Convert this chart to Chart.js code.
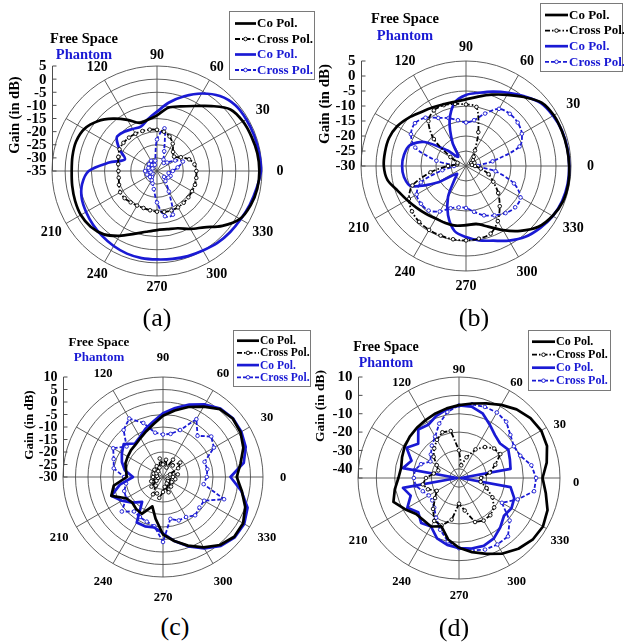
<!DOCTYPE html>
<html>
<head>
<meta charset="utf-8">
<script src="https://cdn.jsdelivr.net/npm/chart.js@4.4.1/dist/chart.umd.min.js"></script>
<style>
  html, body { margin: 0; padding: 0; background: #fff; }
  #page { position: relative; width: 624px; height: 642px; overflow: hidden; background: #fff; }
  canvas { position: absolute; }
  .cap { position: absolute; transform: translate(-50%, -50%); font: 26px "Liberation Serif", "Times New Roman", serif; color: #000; }
</style>
</head>
<body>
<div id="page">
  <canvas id="pa" width="316" height="300" style="left:0;top:0"></canvas>
  <canvas id="pb" width="314" height="300" style="left:310px;top:0"></canvas>
  <canvas id="pc" width="316" height="290" style="left:0;top:322px"></canvas>
  <canvas id="pd" width="314" height="290" style="left:310px;top:322px"></canvas>
  <div class="cap" style="left:157px;top:318px">(a)</div>
  <div class="cap" style="left:474px;top:318px">(b)</div>
  <div class="cap" style="left:175px;top:627px">(c)</div>
  <div class="cap" style="left:454px;top:628px">(d)</div>
</div>
<script>
const SERIF = '"Liberation Serif", "Times New Roman", serif';
Chart.defaults.font.family = SERIF;
Chart.defaults.color = '#000';

// angle in degrees, counter-clockwise from the 0 direction (right)
const ANGLES = [0, 10, 20, 30, 40, 50, 60, 70, 80, 90, 100, 110, 120, 130, 140, 150, 160, 170,
                180, 190, 200, 210, 220, 230, 240, 250, 260, 270, 280, 290, 300, 310, 320, 330, 340, 350];
const ANGLE_LABELS = [0, 30, 60, 90, 120, 210, 240, 270, 300, 330];
const SERIES_NAMES = ['Co Pol.', 'Cross Pol.', 'Co Pol.', 'Cross Pol.'];
const GROUP_NAMES = ['Free Space', 'Phantom'];

// gain in dB, one value per entry of ANGLES
// (a)
const A_FS_CO = [4, 3.8, 3.3, 2.8, 1.5, -2.7, -6.4, -8.8, -10.5, -13.8, -15.2, -15.5, -12.5, -9, -5.5, -3, -2.2, -2.3,
                 -2.5, -2.2, -1.8, -1.5, -2, -3.5, -6.5, -9.5, -11.5, -12.5, -12.5, -11.8, -9.5, -7, -2.5, 1.5, 3, 3.8];
const A_FS_CROSS = [-20, -20.5, -22, -24.5, -26.5, -25.5, -23, -21, -19.8, -19.3, -19, -18.8, -18.6, -18.4, -18.3, -18.5, -19.3, -20,
                    -20.3, -20.2, -19.6, -18.8, -18.9, -19.4, -19.8, -20, -19.8, -19.5, -19.2, -19, -19, -19.2, -19.4, -19.6, -19.6, -19.8];
const A_PH_CO = [4.6, 4.5, 4.4, 4.3, 4.0, 2.3, -0.9, -4.7, -8.5, -12.4, -15, -17, -16.5, -15.5, -15, -18.5, -22, -16.5,
                 -9, -6, -4.5, -3.8, -3.2, -2.6, -2, -1.5, -1.3, -1.3, -1, -0.5, 0, 0.8, 1.3, 1.8, 2.6, 3.5];
const A_PH_CROSS = [-29, -27, -24.5, -27, -30, -31, -30, -27, -18.5, -23, -31, -32.5, -30.5, -32, -31, -33, -31.5, -32,
                    -30.5, -32.5, -31, -33, -31.5, -32, -31, -30, -28, -23, -17.5, -17.3, -26, -30, -31.5, -30, -29.5, -30.5];
// (b)
const B_FS_CO = [4.4, 4.2, 4.0, 3.8, 2.9, 0, -2.6, -4.7, -6.5, -7.8, -8.3, -8.1, -7.5, -6.6, -5, -3.5, -2.7, -2.6,
                 -2.6, -3.4, -5.8, -7.3, -8.4, -9.2, -9.8, -9.8, -9.8, -10.3, -10.4, -8.5, -5.3, -1.8, 1.5, 3.3, 4.4, 4.6];
const B_FS_CROSS = [-27, -28, -27, -28, -27, -26, -24, -18, -10, -9.5, -9, -8.4, -8.6, -10.5, -16, -24, -27, -27,
                    -24, -18, -11, -8, -6.5, -5.7, -5.4, -5.3, -5.2, -5.2, -5.4, -6, -8.8, -12.5, -16, -19.5, -22, -25];
const B_PH_CO = [4.4, 4.3, 4.1, 3.5, 2.6, 0.3, -1.8, -3.6, -5.2, -6.3, -8.5, -14, -21, -26, -22, -14, -10, -9,
                 -8.7, -9, -10.5, -19, -26, -24, -18, -12.5, -8, -6.3, -4.8, -3.5, -1.3, 0.8, 2.2, 3.4, 4.1, 4.4];
const B_PH_CROSS = [-26, -21, -11, -8.5, -7.5, -7.3, -8, -11.4, -14.5, -15.5, -14.5, -13, -11.5, -9, -7.8, -8.8, -12, -20,
                    -26, -22, -14, -11, -10.4, -10.6, -12.5, -15, -16, -16, -14.5, -12.5, -11, -9.5, -8.6, -9, -13, -20];
// (c)
const C_FS_CO = [-0.5, 1.5, 4.2, 5.8, 6.4, 5.4, 2.5, -0.2, -3, -5.5, -8.5, -10.5, -12, -13, -13.3, -13.7, -14, -15,
                 -15.5, -10, -8, -13, -14, -13.3, -13, -17.5, -13, -7, -4, -0.8, 2.5, 5.5, 7.2, 7, 5, 2];
const C_FS_CROSS = [-26, -24, -27, -23, -21, -24, -22, -26, -23, -25, -22.5, -26, -25, -27, -25.5, -27, -26, -27.5,
                    -26, -28, -25, -27, -24, -25.5, -22, -23, -21.5, -24, -26, -23.5, -27, -25, -27.5, -26, -28, -25];
const C_PH_CO = [-3, 2.8, 5.2, 6.2, 6.5, 5.7, 3.5, 0.8, -2, -4.5, -7.5, -9.5, -11.5, -12.5, -9.5, -11, -12.5, -14.5,
                 -18, -12.5, -8, -11, -14, -17, -9, -9, -9.5, -7.5, -4, -0.5, 3, 6, 7.5, 7.5, 6, 1.8];
const C_PH_CROSS = [-12.5, -12, -12.3, -6.5, -4.8, -8.5, -3.3, -10, -12.5, -13, -12, -7, -3, -5.5, -11, -7, -9, -10,
                    -14.5, -15, -13.5, -13, -8.5, -12, -11.5, -11, -10, -4, -13, -11.5, -11.5, -10, -11, -11, -4, -13.5];
// (d)
const D_FS_CO = [0.5, 3.5, 6, 6.7, 5.8, 3.8, 1, -1.8, -3.8, -5.3, -6.5, -7.6, -8.6, -9.3, -10, -10.8, -12, -13,
                 -12, -9.5, -7, -11, -14.5, -15, -14.5, -17, -11, -7, -4, -1, 2.5, 5.3, 7.3, 7.8, 6.3, 3];
const D_FS_CROSS = [-33, -28, -24, -19, -20, -23, -27, -33, -38, -30, -19, -18.5, -21, -24, -27, -31, -33, -31,
                    -27, -25, -27, -31, -28, -23, -18, -17.5, -22, -31, -27, -19.5, -18.2, -18.5, -20, -24, -29, -33];
const D_PH_CO = [-44, -16.5, -15.5, -14, -15.8, -14.5, -11.5, -7.5, -5.5, -5.5, -7, -9, -11.5, -10.5, -16, -12, -17.5, -14,
                 -44, -14, -17, -12.5, -16, -13, -14.5, -10, -8, -6.8, -6, -5.7, -7, -10, -13, -12, -13, -16.5];
const D_PH_CROSS = [-3, -5, -9.5, -10.5, -8.5, -5, -3.8, -3.8, -4.3, -5.5, -8.5, -13.5, -19, -22, -25, -27, -23, -20.5,
                    -20.4, -21, -24, -26, -26, -24, -20, -15, -10, -6.8, -5, -3.5, -3.2, -3.5, -9, -18, -11, -3.5];

const BLACK = '#000000';
const BLUE = '#1a1ad4';
const GRID = '#4d4d4d';

const STYLES = [
  { color: BLACK, width: 2.7, dash: [], marks: false },
  { color: BLACK, width: 1.8, dash: [5, 2, 1.5, 2], marks: true },
  { color: BLUE, width: 2.7, dash: [], marks: false },
  { color: BLUE, width: 1.8, dash: [4, 2], marks: true }
];

// radar walks its labels clockwise, the plot runs counter-clockwise
const ORDER = ANGLES.map((_, i) => (ANGLES.length - i) % ANGLES.length);
const pick = arr => ORDER.map(k => arr[k]);

function decor(d) {
  return {
    id: 'polarDecor',
    afterDraw(chart) {
      const ctx = chart.ctx, r = chart.scales.r;
      const cx = r.xCenter, cy = r.yCenter, R = r.drawingArea;
      ctx.save();

      // angle labels
      ctx.fillStyle = '#000';
      ctx.textAlign = 'center';
      ctx.textBaseline = 'middle';
      ctx.font = `bold ${d.labelSize}px ${SERIF}`;
      chart.data.labels.forEach((a, i) => {
        if (!ANGLE_LABELS.includes(a)) return;
        const rad = a * Math.PI / 180;
        const p = r.getPointPosition(i, R + d.labelGap + d.labelSide * Math.abs(Math.cos(rad)));
        ctx.fillText(String(a), p.x, p.y + d.labelDy);
      });

      // gain axis on the left
      const x0 = Math.round(cx - R) + 0.5;
      ctx.strokeStyle = GRID;
      ctx.lineWidth = 1;
      ctx.beginPath();
      ctx.moveTo(x0, cy - R);
      ctx.lineTo(x0, cy);
      ctx.stroke();
      ctx.textAlign = 'right';
      ctx.font = `bold ${d.tickSize}px ${SERIF}`;
      r.ticks.forEach(t => {
        const y = cy - r.getDistanceFromCenterForValue(t.value);
        ctx.beginPath();
        ctx.moveTo(x0, y);
        ctx.lineTo(x0 + 4, y);
        ctx.stroke();
        if (t.value % d.step === 0) ctx.fillText(String(t.value), x0 - 6, y + 0.5);
      });

      // axis title
      ctx.save();
      ctx.translate(d.axisTitle[0], d.axisTitle[1]);
      ctx.rotate(-Math.PI / 2);
      ctx.textAlign = 'center';
      ctx.font = `bold ${d.axisSize}px ${SERIF}`;
      ctx.fillText('Gain (in dB)', 0, 0);
      ctx.restore();

      // group titles
      ctx.textAlign = 'center';
      ctx.font = `bold ${d.titleSize}px ${SERIF}`;
      ctx.fillStyle = BLACK;
      ctx.fillText(GROUP_NAMES[0], d.title[0], d.title[1]);
      ctx.fillStyle = BLUE;
      ctx.fillText(GROUP_NAMES[1], d.title[0], d.title[2]);

      // legend box
      const L = d.legend;
      ctx.fillStyle = '#fff';
      ctx.fillRect(L.x, L.y, L.w, L.h);
      ctx.strokeStyle = '#7a7a7a';
      ctx.lineWidth = 1;
      ctx.strokeRect(L.x + 0.5, L.y + 0.5, L.w, L.h);
      ctx.font = `bold ${L.size}px ${SERIF}`;
      ctx.textAlign = 'left';
      chart.data.datasets.forEach((ds, i) => {
        const y = L.row0 + i * L.dy;
        ctx.strokeStyle = ds.borderColor;
        ctx.lineWidth = ds.borderWidth;
        ctx.setLineDash(ds.borderDash);
        ctx.beginPath();
        ctx.moveTo(L.lx, y);
        ctx.lineTo(L.lx + L.lw, y);
        ctx.stroke();
        ctx.setLineDash([]);
        if (ds.pointRadius) {
          ctx.beginPath();
          ctx.arc(L.lx + L.lw / 2, y, 1.8, 0, Math.PI * 2);
          ctx.fillStyle = '#fff';
          ctx.fill();
          ctx.lineWidth = 0.9;
          ctx.stroke();
        }
        ctx.fillStyle = ds.borderColor;
        ctx.fillText(ds.label, L.lx + L.lw + 1, y + 0.5);
      });
      ctx.restore();
    }
  };
}

function polar(id, cfg) {
  const datasets = cfg.series.map((vals, i) => ({
    label: SERIES_NAMES[i],
    data: pick(vals),
    borderColor: STYLES[i].color,
    borderWidth: STYLES[i].width,
    borderDash: STYLES[i].dash,
    borderJoinStyle: 'round',
    fill: false,
    tension: cfg.tension,
    pointRadius: STYLES[i].marks ? 1.8 : 0,
    pointBackgroundColor: '#fff',
    pointBorderColor: STYLES[i].color,
    pointBorderWidth: 0.9
  }));
  const labels = pick(ANGLES);
  new Chart(document.getElementById(id), {
    type: 'radar',
    data: { labels, datasets },
    options: {
      responsive: false,
      animation: false,
      events: [],
      layout: { padding: cfg.pad },
      plugins: { legend: { display: false }, tooltip: { enabled: false } },
      scales: {
        r: {
          min: cfg.min,
          max: cfg.max,
          startAngle: 90,
          ticks: { display: false, stepSize: cfg.step },
          pointLabels: { display: false },
          grid: { circular: true, color: GRID, lineWidth: 0.9 },
          angleLines: { color: GRID, lineWidth: c => (labels[c.index] % 30 === 0 ? 0.9 : 0) }
        }
      }
    },
    plugins: [decor(Object.assign({ step: cfg.step }, cfg.decor))]
  });
}

polar('pa', {
  series: [A_FS_CO, A_FS_CROSS, A_PH_CO, A_PH_CROSS],
  min: -35, max: 5, step: 5, tension: 0.3,
  pad: { left: 52, top: 66, right: 54, bottom: 24 },
  decor: {
    labelSize: 14, labelGap: 11, labelSide: 7, labelDy: 0,
    tickSize: 15, axisSize: 14.5, axisTitle: [15, 115],
    titleSize: 14.5, title: [84, 39, 55],
    legend: { x: 229, y: 11, w: 85, h: 68, row0: 23.5, dy: 15.5, lx: 235, lw: 21, size: 13 }
  }
});

polar('pb', {
  series: [B_FS_CO, B_FS_CROSS, B_PH_CO, B_PH_CROSS],
  min: -30, max: 5, step: 5, tension: 0.3,
  pad: { left: 51, top: 61, right: 53, bottom: 29 },
  decor: {
    labelSize: 14, labelGap: 14.5, labelSide: 5, labelDy: 0.8,
    tickSize: 15, axisSize: 15, axisTitle: [15, 104],
    titleSize: 14.5, title: [95, 19, 36],
    legend: { x: 230, y: 3, w: 82, h: 68, row0: 15, dy: 15.6, lx: 235, lw: 23, size: 13 }
  }
});

polar('pc', {
  series: [C_FS_CO, C_FS_CROSS, C_PH_CO, C_PH_CROSS],
  min: -30, max: 10, step: 5, tension: 0,
  pad: { left: 63, top: 55, right: 53, bottom: 35 },
  decor: {
    labelSize: 12.5, labelGap: 20, labelSide: 0, labelDy: 0.5,
    tickSize: 14, axisSize: 13, axisTitle: [30, 103],
    titleSize: 13, title: [99, 21, 36],
    legend: { x: 233, y: 8, w: 77, h: 56, row0: 18.7, dy: 12.2, lx: 237, lw: 22, size: 11.5 }
  }
});

polar('pd', {
  series: [D_FS_CO, D_FS_CROSS, D_PH_CO, D_PH_CROSS],
  min: -45, max: 10, step: 10, tension: 0,
  pad: { left: 48, top: 55, right: 64, bottom: 33 },
  decor: {
    labelSize: 12.5, labelGap: 12, labelSide: 4, labelDy: 4.5,
    tickSize: 15, axisSize: 13.5, axisTitle: [11, 84],
    titleSize: 14, title: [76, 25, 41],
    legend: { x: 218, y: 8, w: 82, h: 60, row0: 19.7, dy: 13, lx: 222, lw: 23, size: 12 }
  }
});
</script>
</body>
</html>
